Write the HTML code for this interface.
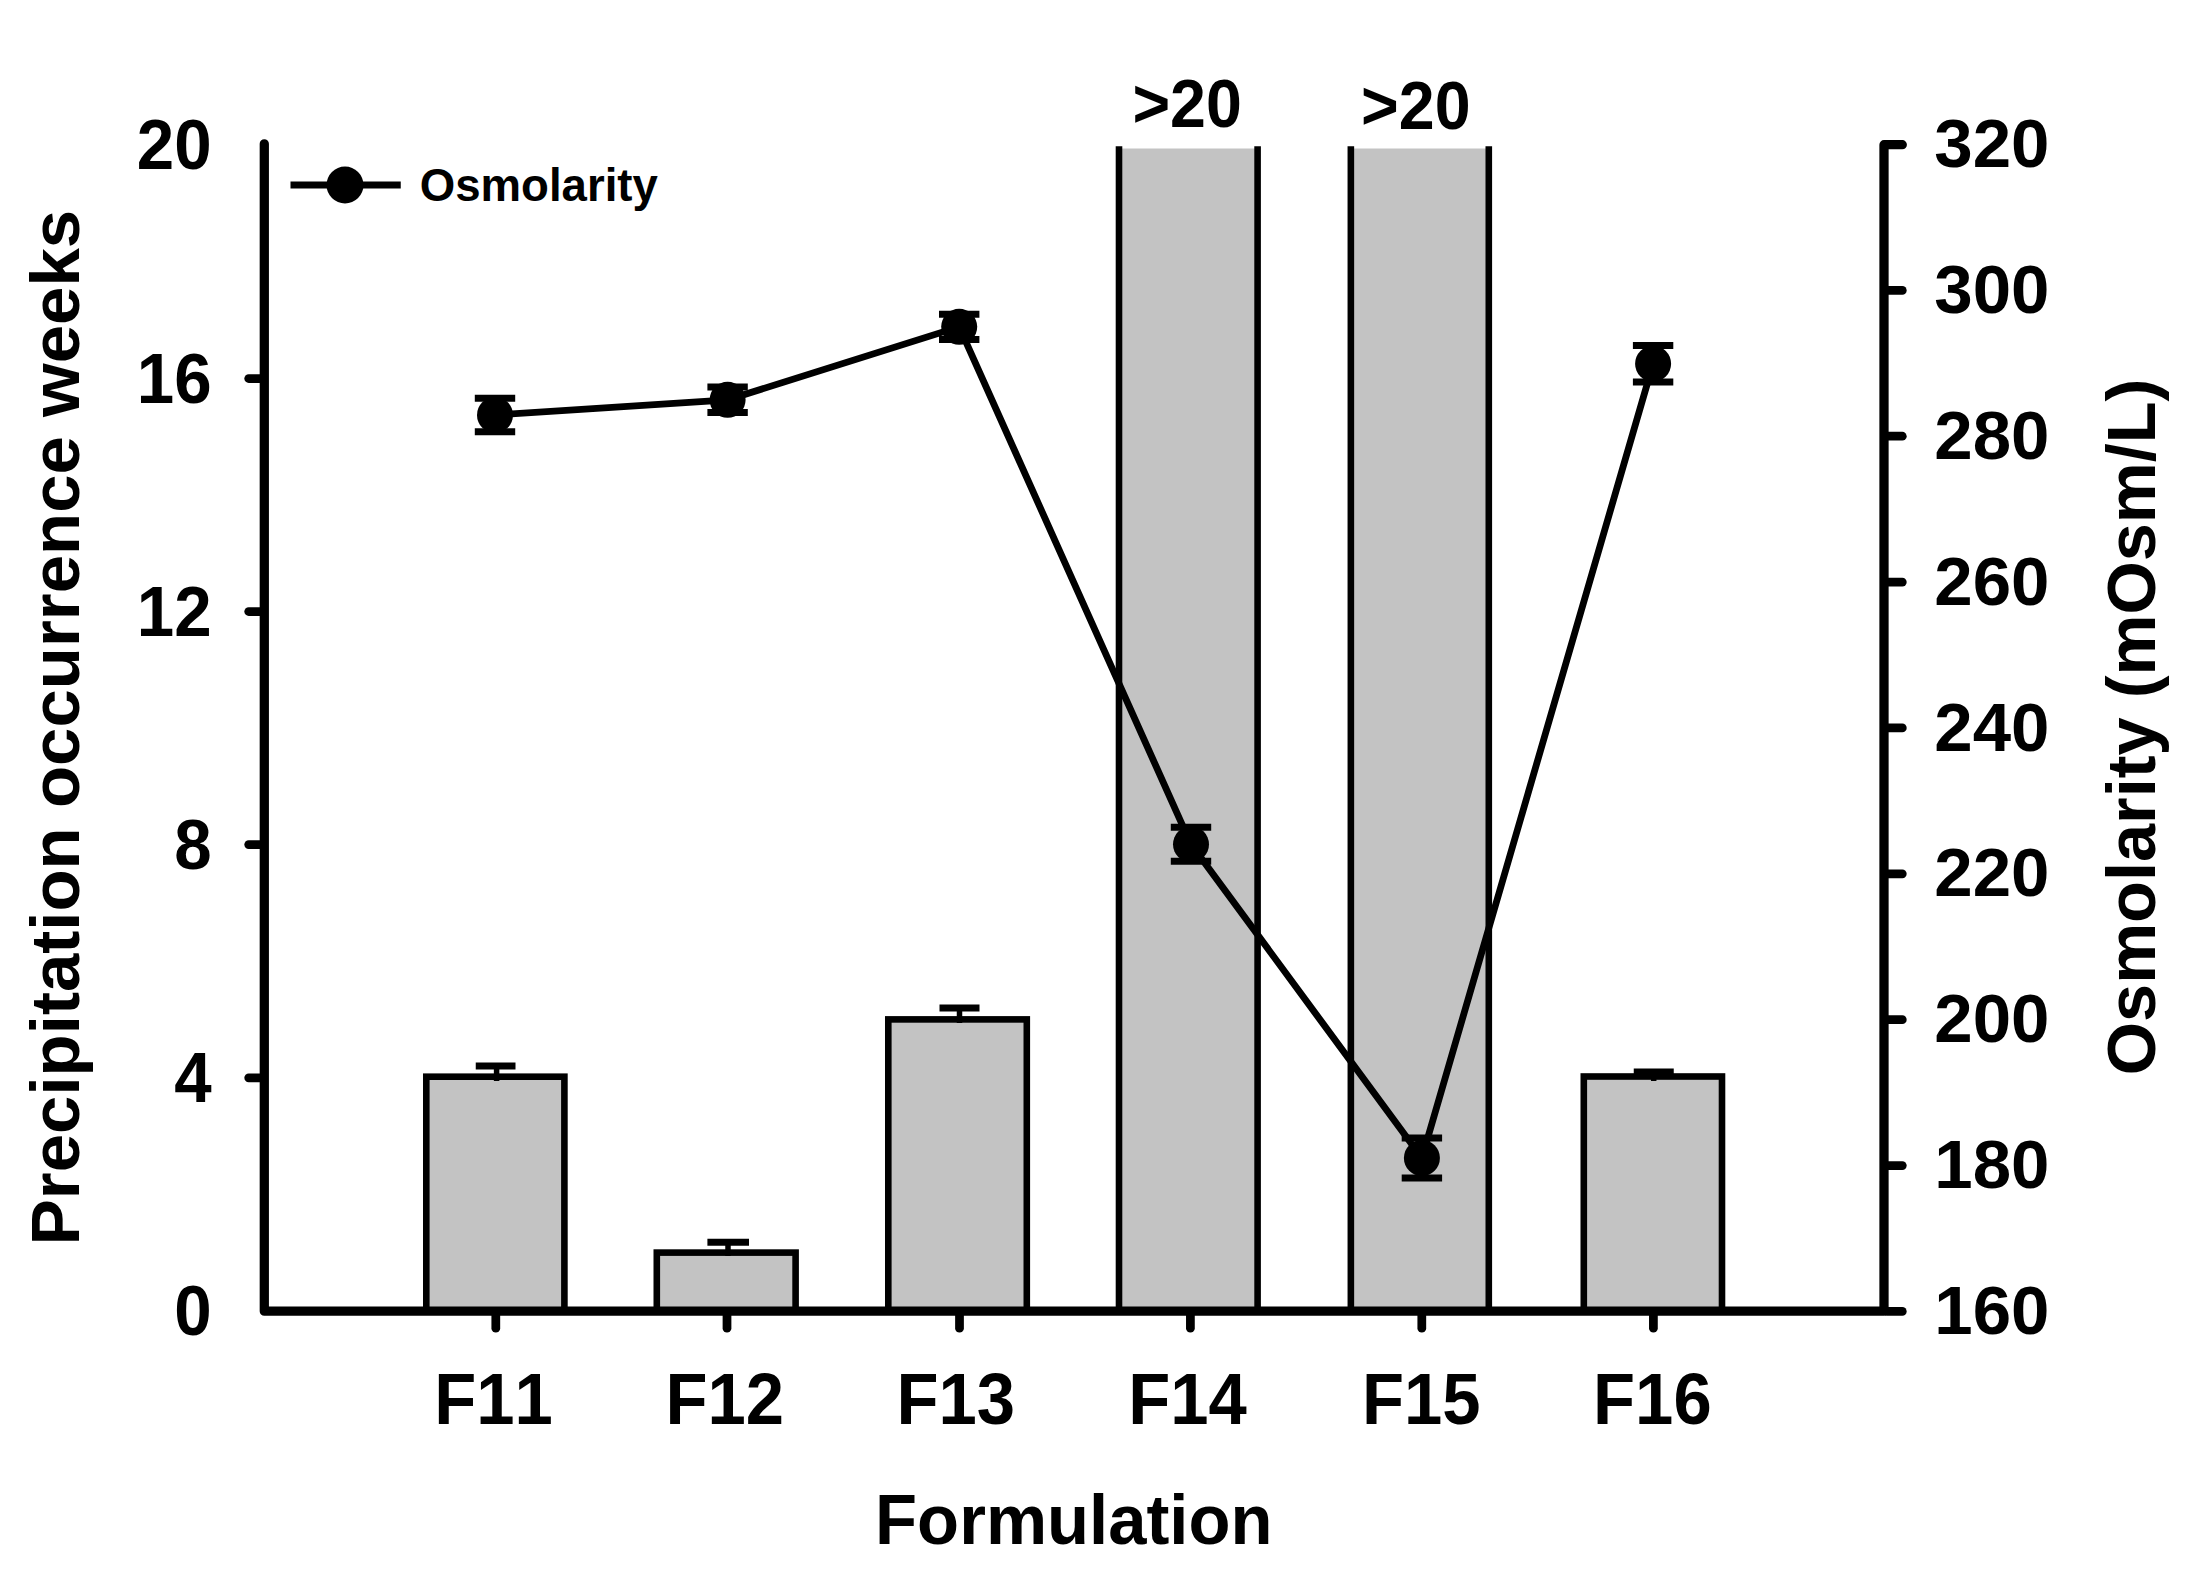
<!DOCTYPE html>
<html lang="en"><head><meta charset="utf-8"><title>Precipitation occurrence weeks and osmolarity by formulation</title>
<style>
html,body{margin:0;padding:0;background:#fff;}
body{width:2204px;height:1582px;overflow:hidden;}
svg{display:block;}
svg text{font-family:"Liberation Sans",sans-serif;font-weight:bold;fill:#000;font-kerning:none;}
</style></head><body>
<svg width="2204" height="1582" viewBox="0 0 2204 1582">
<rect width="2204" height="1582" fill="#fff"/>
<rect x="426.30" y="1076.70" width="138.10" height="234.50" fill="#c3c3c3" stroke="#000" stroke-width="6.6"/>
<rect x="656.80" y="1252.60" width="138.80" height="58.60" fill="#c3c3c3" stroke="#000" stroke-width="6.6"/>
<rect x="888.30" y="1019.40" width="138.50" height="291.80" fill="#c3c3c3" stroke="#000" stroke-width="6.6"/>
<rect x="1119.00" y="148.5" width="138.60" height="1162.70" fill="#c3c3c3"/>
<line x1="1119.00" y1="146.2" x2="1119.00" y2="1311.2" stroke="#000" stroke-width="6.6"/>
<line x1="1257.60" y1="146.2" x2="1257.60" y2="1311.2" stroke="#000" stroke-width="6.6"/>
<rect x="1350.85" y="148.5" width="137.95" height="1162.70" fill="#c3c3c3"/>
<line x1="1350.85" y1="146.2" x2="1350.85" y2="1311.2" stroke="#000" stroke-width="6.6"/>
<line x1="1488.80" y1="146.2" x2="1488.80" y2="1311.2" stroke="#000" stroke-width="6.6"/>
<rect x="1583.80" y="1076.50" width="138.20" height="234.70" fill="#c3c3c3" stroke="#000" stroke-width="6.6"/>
<line x1="496.6" y1="1066.0" x2="496.6" y2="1081" stroke="#000" stroke-width="5.5"/>
<line x1="475.75" y1="1066.0" x2="515.5" y2="1066.0" stroke="#000" stroke-width="7"/>
<line x1="728.0" y1="1242.2" x2="728.0" y2="1256" stroke="#000" stroke-width="5.5"/>
<line x1="707.4" y1="1242.2" x2="749.0" y2="1242.2" stroke="#000" stroke-width="7"/>
<line x1="959.5" y1="1008.1" x2="959.5" y2="1023" stroke="#000" stroke-width="5.5"/>
<line x1="939.5" y1="1008.1" x2="979.5" y2="1008.1" stroke="#000" stroke-width="7"/>
<line x1="1653.7" y1="1072.0" x2="1653.7" y2="1081" stroke="#000" stroke-width="5.5"/>
<line x1="1633.75" y1="1072.0" x2="1673.75" y2="1072.0" stroke="#000" stroke-width="7"/>
<path d="M264.3 143.8 V1311.2 H1884.0 V144.7 H1902.3" fill="none" stroke="#000" stroke-width="9.25" stroke-linejoin="round" stroke-linecap="round"/>
<line x1="248.7" y1="378.5" x2="262" y2="378.5" stroke="#000" stroke-width="8.75" stroke-linecap="round"/>
<line x1="248.7" y1="611.5" x2="262" y2="611.5" stroke="#000" stroke-width="8.75" stroke-linecap="round"/>
<line x1="248.7" y1="844.6" x2="262" y2="844.6" stroke="#000" stroke-width="8.75" stroke-linecap="round"/>
<line x1="248.7" y1="1077.8" x2="262" y2="1077.8" stroke="#000" stroke-width="8.75" stroke-linecap="round"/>
<line x1="1887" y1="1311.40" x2="1902.3" y2="1311.40" stroke="#000" stroke-width="8.75" stroke-linecap="round"/>
<line x1="1887" y1="1165.54" x2="1902.3" y2="1165.54" stroke="#000" stroke-width="8.75" stroke-linecap="round"/>
<line x1="1887" y1="1019.68" x2="1902.3" y2="1019.68" stroke="#000" stroke-width="8.75" stroke-linecap="round"/>
<line x1="1887" y1="873.82" x2="1902.3" y2="873.82" stroke="#000" stroke-width="8.75" stroke-linecap="round"/>
<line x1="1887" y1="727.96" x2="1902.3" y2="727.96" stroke="#000" stroke-width="8.75" stroke-linecap="round"/>
<line x1="1887" y1="582.10" x2="1902.3" y2="582.10" stroke="#000" stroke-width="8.75" stroke-linecap="round"/>
<line x1="1887" y1="436.24" x2="1902.3" y2="436.24" stroke="#000" stroke-width="8.75" stroke-linecap="round"/>
<line x1="1887" y1="290.38" x2="1902.3" y2="290.38" stroke="#000" stroke-width="8.75" stroke-linecap="round"/>
<line x1="495.8" y1="1314" x2="495.8" y2="1328.2" stroke="#000" stroke-width="8.75" stroke-linecap="round"/>
<line x1="727.0" y1="1314" x2="727.0" y2="1328.2" stroke="#000" stroke-width="8.75" stroke-linecap="round"/>
<line x1="959.5" y1="1314" x2="959.5" y2="1328.2" stroke="#000" stroke-width="8.75" stroke-linecap="round"/>
<line x1="1190.4" y1="1314" x2="1190.4" y2="1328.2" stroke="#000" stroke-width="8.75" stroke-linecap="round"/>
<line x1="1421.8" y1="1314" x2="1421.8" y2="1328.2" stroke="#000" stroke-width="8.75" stroke-linecap="round"/>
<line x1="1653.4" y1="1314" x2="1653.4" y2="1328.2" stroke="#000" stroke-width="8.75" stroke-linecap="round"/>
<polyline fill="none" stroke="#000" stroke-width="6.8" points="495.0,415.0 727.6,399.8 959.2,326.8 1191.0,844.3 1421.9,1158.0 1653.1,363.75"/>
<line x1="495.0" y1="398.25" x2="495.0" y2="431.75" stroke="#000" stroke-width="5.5"/>
<line x1="474.8" y1="398.25" x2="515.2" y2="398.25" stroke="#000" stroke-width="7"/>
<line x1="474.8" y1="431.75" x2="515.2" y2="431.75" stroke="#000" stroke-width="7"/>
<circle cx="495.0" cy="415.0" r="18"/>
<line x1="727.6" y1="387.0" x2="727.6" y2="412.6" stroke="#000" stroke-width="5.5"/>
<line x1="707.4" y1="387.0" x2="747.8000000000001" y2="387.0" stroke="#000" stroke-width="7"/>
<line x1="707.4" y1="412.6" x2="747.8000000000001" y2="412.6" stroke="#000" stroke-width="7"/>
<circle cx="727.6" cy="399.8" r="18"/>
<line x1="959.2" y1="314.2" x2="959.2" y2="339.40000000000003" stroke="#000" stroke-width="5.5"/>
<line x1="939.0" y1="314.2" x2="979.4000000000001" y2="314.2" stroke="#000" stroke-width="7"/>
<line x1="939.0" y1="339.40000000000003" x2="979.4000000000001" y2="339.40000000000003" stroke="#000" stroke-width="7"/>
<circle cx="959.2" cy="326.8" r="18"/>
<line x1="1191.0" y1="827.3" x2="1191.0" y2="861.3" stroke="#000" stroke-width="5.5"/>
<line x1="1170.8" y1="827.3" x2="1211.2" y2="827.3" stroke="#000" stroke-width="7"/>
<line x1="1170.8" y1="861.3" x2="1211.2" y2="861.3" stroke="#000" stroke-width="7"/>
<circle cx="1191.0" cy="844.3" r="18"/>
<line x1="1421.9" y1="1138.0" x2="1421.9" y2="1178.0" stroke="#000" stroke-width="5.5"/>
<line x1="1401.7" y1="1138.0" x2="1442.1000000000001" y2="1138.0" stroke="#000" stroke-width="7"/>
<line x1="1401.7" y1="1178.0" x2="1442.1000000000001" y2="1178.0" stroke="#000" stroke-width="7"/>
<circle cx="1421.9" cy="1158.0" r="18"/>
<line x1="1653.1" y1="345.5" x2="1653.1" y2="382.0" stroke="#000" stroke-width="5.5"/>
<line x1="1632.8999999999999" y1="345.5" x2="1673.3" y2="345.5" stroke="#000" stroke-width="7"/>
<line x1="1632.8999999999999" y1="382.0" x2="1673.3" y2="382.0" stroke="#000" stroke-width="7"/>
<circle cx="1653.1" cy="363.75" r="18"/>
<line x1="290.5" y1="185" x2="400.75" y2="185" stroke="#000" stroke-width="7"/>
<circle cx="345" cy="185" r="18.5"/>
<text transform="translate(419.70 201.00) scale(1 1.02)" font-size="45.6">Osmolarity</text>
<text transform="translate(211.70 168.70) scale(1 1.035)" font-size="67.3" text-anchor="end">20</text>
<text transform="translate(211.70 402.70) scale(1 1.035)" font-size="67.3" text-anchor="end">16</text>
<text transform="translate(211.70 635.70) scale(1 1.035)" font-size="67.3" text-anchor="end">12</text>
<text transform="translate(211.70 868.80) scale(1 1.035)" font-size="67.3" text-anchor="end">8</text>
<text transform="translate(211.70 1102.00) scale(1 1.035)" font-size="67.3" text-anchor="end">4</text>
<text transform="translate(211.70 1335.40) scale(1 1.035)" font-size="67.3" text-anchor="end">0</text>
<text transform="translate(1934.30 1333.90)" font-size="69">160</text>
<text transform="translate(1934.30 1188.05)" font-size="69">180</text>
<text transform="translate(1934.30 1042.20)" font-size="69">200</text>
<text transform="translate(1934.30 896.35)" font-size="69">220</text>
<text transform="translate(1934.30 750.50)" font-size="69">240</text>
<text transform="translate(1934.30 604.65)" font-size="69">260</text>
<text transform="translate(1934.30 458.80)" font-size="69">280</text>
<text transform="translate(1934.30 312.95)" font-size="69">300</text>
<text transform="translate(1934.30 167.10)" font-size="69">320</text>
<text transform="translate(434.15 1423.80) scale(1 1.052)" font-size="68.8">F11</text>
<text transform="translate(665.40 1423.80) scale(1 1.052)" font-size="68.8">F12</text>
<text transform="translate(896.40 1423.80) scale(1 1.052)" font-size="68.8">F13</text>
<text transform="translate(1128.30 1423.80) scale(1 1.052)" font-size="68.8">F14</text>
<text transform="translate(1361.90 1423.80) scale(1 1.052)" font-size="68.8">F15</text>
<text transform="translate(1593.10 1423.80) scale(1 1.052)" font-size="68.8">F16</text>
<text transform="translate(875.10 1543.50) scale(1 1.017)" font-size="68.8">Formulation</text>
<text transform="translate(1132.40 127.30) scale(1 1.05)" font-size="64.5">&gt;20</text>
<text transform="translate(1361.10 129.00) scale(1 1.05)" font-size="64.5">&gt;20</text>
<text transform="translate(79.10 1245.20) rotate(-90)" font-size="69">Precipitation occurrence weeks</text>
<text transform="translate(2154.60 1075.20) rotate(-90)" font-size="68.5">Osmolarity (mOsm/L)</text>
</svg>
</body></html>
